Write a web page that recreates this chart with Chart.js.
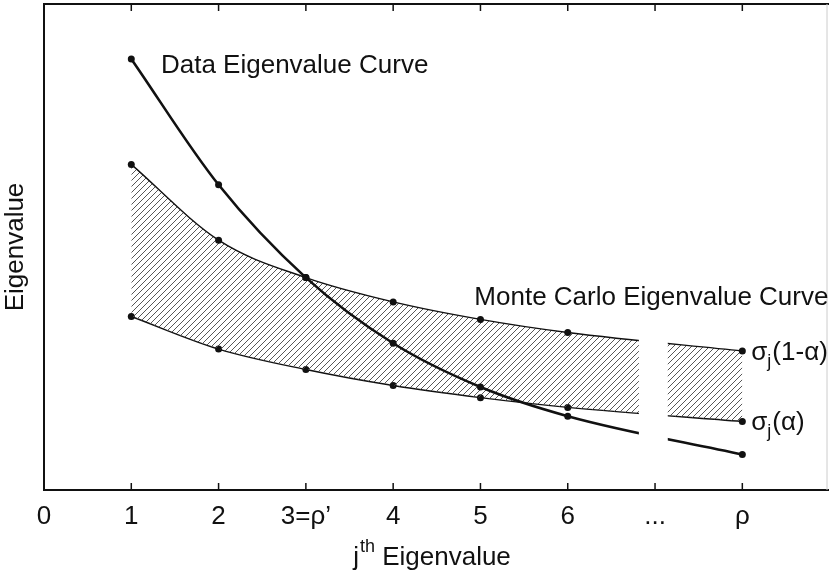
<!DOCTYPE html>
<html>
<head>
<meta charset="utf-8">
<script src="https://cdn.jsdelivr.net/npm/chart.js@4.4.0/dist/chart.umd.min.js"></script>
<style>
  html, body { margin: 0; padding: 0; background: #fff; }
  #wrap { width: 831px; height: 576px; }
</style>
</head>
<body>
<div id="wrap"><canvas id="eigen-chart"></canvas></div>
<script>
// jth eigenvalue positions (rho plotted at 8)
const eigenIndex = [1, 2, 3, 4, 5, 6, 8];
const dataEigen = [88.7, 62.8, 43.7, 30.2, 21.2, 15.2, 7.3];
const mcUpper = [67.0, 51.4, 43.7, 38.7, 35.1, 32.4, 28.6];
const mcLower = [35.7, 29.0, 24.8, 21.5, 19.0, 17.0, 14.1];
const tickValues = [0, 1, 2, 3, 4, 5, 6, 7, 8];
const tickLabels = ['0', '1', '2', '3=ρ’', '4', '5', '6', '...', 'ρ'];

const FONT = '"Liberation Sans", Arial, Helvetica, sans-serif';
Chart.defaults.font.family = FONT;
Chart.defaults.color = '#111';

const toPoints = (ys) => ys.map((v, i) => ({ x: eigenIndex[i], y: v }));

// diagonal hatch for the Monte Carlo band
const makeHatch = () => {
  const s = 6;
  const c = document.createElement('canvas');
  c.width = s; c.height = s;
  const g = c.getContext('2d');
  g.strokeStyle = '#444';
  g.lineWidth = 0.9;
  g.beginPath();
  g.moveTo(0, s); g.lineTo(s, 0);
  g.moveTo(-1, 1); g.lineTo(1, -1);
  g.moveTo(s - 1, s + 1); g.lineTo(s + 1, s - 1);
  g.stroke();
  return g.createPattern(c, 'repeat');
};

const drawSub = (ctx, x, y, main, sub, rest) => {
  ctx.font = '26px ' + FONT;
  ctx.fillText(main, x, y);
  x += ctx.measureText(main).width;
  ctx.font = '18px ' + FONT;
  ctx.fillText(sub, x, y + 7);
  x += ctx.measureText(sub).width + 1;
  ctx.font = '26px ' + FONT;
  ctx.fillText(rest, x, y);
};

const extras = {
  id: 'extras',
  afterDraw(chart) {
    const { ctx, chartArea: a, scales: { x, y } } = chart;
    ctx.save();

    // axis break around "..."
    const b0 = x.getPixelForValue(6.815), b1 = x.getPixelForValue(7.146);
    ctx.fillStyle = '#fff';
    ctx.fillRect(b0, a.top + 10, b1 - b0, a.bottom - a.top - 20);

    // frame
    ctx.strokeStyle = '#111';
    ctx.lineWidth = 2;
    ctx.beginPath();
    ctx.moveTo(a.right + 2, a.top); ctx.lineTo(a.left, a.top);
    ctx.lineTo(a.left, a.bottom); ctx.lineTo(a.right + 2, a.bottom);
    ctx.stroke();
    ctx.strokeStyle = '#ccc';
    ctx.lineWidth = 1;
    ctx.beginPath();
    ctx.moveTo(a.right, a.top); ctx.lineTo(a.right, a.bottom);
    ctx.stroke();

    // inward ticks top and bottom
    ctx.strokeStyle = '#111';
    ctx.lineWidth = 1.5;
    ctx.beginPath();
    tickValues.filter(v => v > 0).forEach(v => {
      const px = x.getPixelForValue(v);
      ctx.moveTo(px, a.bottom); ctx.lineTo(px, a.bottom - 7);
      ctx.moveTo(px, a.top); ctx.lineTo(px, a.top + 7);
    });
    ctx.stroke();

    // curve labels
    ctx.fillStyle = '#111';
    ctx.textBaseline = 'alphabetic';
    ctx.textAlign = 'left';
    ctx.font = '26px ' + FONT;
    ctx.fillText('Data Eigenvalue Curve', x.getPixelForValue(1.34), y.getPixelForValue(85.7));
    ctx.fillText('Monte Carlo Eigenvalue Curve', x.getPixelForValue(4.93), y.getPixelForValue(38.1));
    const last = eigenIndex.length - 1;
    const lx = x.getPixelForValue(eigenIndex[last]) + 9;
    drawSub(ctx, lx, y.getPixelForValue(mcUpper[last]) + 9, 'σ', 'j', '(1-α)');
    drawSub(ctx, lx, y.getPixelForValue(mcLower[last]) + 9, 'σ', 'j', '(α)');

    // x axis title with superscript
    ctx.font = '26px ' + FONT;
    const jW = ctx.measureText('j').width;
    const restW = ctx.measureText(' Eigenvalue').width;
    ctx.font = '18px ' + FONT;
    const thW = ctx.measureText('th').width;
    let tx = (a.left + a.right) / 2 - (jW + thW + restW) / 2 - 4;
    const ty = 565;
    ctx.font = '26px ' + FONT;
    ctx.fillText('j', tx, ty);
    tx += jW + 1;
    ctx.font = '18px ' + FONT;
    ctx.fillText('th', tx, ty - 13);
    tx += thW;
    ctx.font = '26px ' + FONT;
    ctx.fillText(' Eigenvalue', tx, ty);

    ctx.restore();
  }
};

const lineStyle = {
  borderColor: '#111',
  pointBackgroundColor: '#111',
  pointBorderWidth: 0,
  pointRadius: 3.5,
  cubicInterpolationMode: 'monotone',
};

new Chart(document.getElementById('eigen-chart'), {
  type: 'line',
  data: {
    datasets: [
      {
        label: 'Data Eigenvalue Curve',
        data: toPoints(dataEigen),
        ...lineStyle,
        borderWidth: 2.6,
        fill: false,
        order: 0,
      },
      {
        label: 'σj(1-α)',
        data: toPoints(mcUpper),
        ...lineStyle,
        borderWidth: 1.4,
        fill: '+1',
        backgroundColor: makeHatch(),
        order: 1,
      },
      {
        label: 'σj(α)',
        data: toPoints(mcLower),
        ...lineStyle,
        borderWidth: 1.4,
        fill: false,
        order: 2,
      },
    ],
  },
  options: {
    responsive: true,
    maintainAspectRatio: false,
    animation: false,
    layout: { padding: { top: 4, right: 2, left: 0, bottom: 0 } },
    plugins: {
      legend: { display: false },
      tooltip: { enabled: false },
    },
    scales: {
      x: {
        type: 'linear',
        min: 0,
        max: 8.97,
        afterFit: (s) => { s.height = 86; },
        afterBuildTicks: (s) => { s.ticks = tickValues.map(v => ({ value: v })); },
        ticks: {
          padding: 11,
          font: { size: 26 },
          color: '#111',
          maxRotation: 0,
          autoSkip: false,
          callback: (v) => tickLabels[tickValues.indexOf(v)] ?? '',
        },
        grid: { display: false, drawTicks: false },
        border: { display: false },
      },
      y: {
        min: 0,
        max: 100,
        afterFit: (s) => { s.width = 44; },
        ticks: { display: false },
        grid: { display: false, drawTicks: false },
        border: { display: false },
        title: {
          display: true,
          text: 'Eigenvalue',
          font: { size: 26 },
          color: '#111',
          padding: { top: 0, bottom: 0 },
        },
      },
    },
  },
  plugins: [extras],
});
</script>
</body>
</html>
